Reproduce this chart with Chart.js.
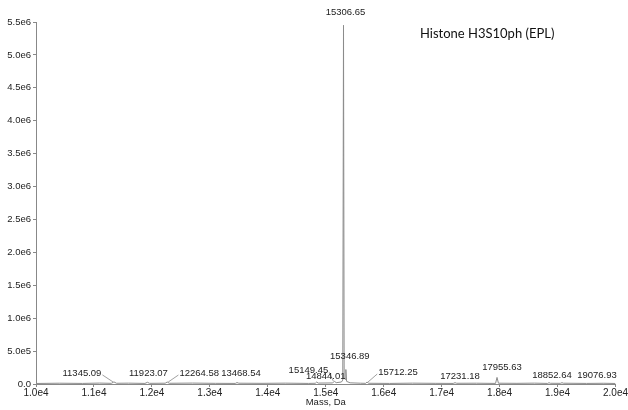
<!DOCTYPE html>
<html>
<head>
<meta charset="utf-8">
<script src="https://cdn.jsdelivr.net/npm/chart.js@4"></script>
<style>
  html, body { margin: 0; padding: 0; background: #fff; }
  #wrap { width: 628px; height: 410px; }
</style>
</head>
<body>
<div id="wrap"><canvas id="myChart" width="628" height="410"></canvas></div>
<script>
// spectrum (mass in Da, intensity in counts)
const specMass = [10000, 10400, 10800, 11100, 11300, 11345.09, 11390, 11600, 11880, 11923.07, 11960,
  12230, 12264.58, 12300, 12700, 13100, 13440, 13468.54, 13500, 13900, 14300, 14700, 14820, 14844.01, 14870,
  15120, 15149.45, 15180, 15270, 15294, 15306.65, 15318, 15334, 15346.89, 15360, 15420, 15600, 15690, 15712.25,
  15740, 16100, 16500, 16900, 17200, 17231.18, 17260, 17600, 17930, 17955.63, 17980, 18300, 18600, 18830,
  18852.64, 18875, 19050, 19076.93, 19100, 19500, 19800, 20000];
const specIntensity = [8000, 12000, 9000, 14000, 10000, 32000, 11000, 13000, 9000, 26000, 10000,
  12000, 30000, 11000, 14000, 10000, 9000, 22000, 12000, 10000, 13000, 9000, 11000, 30000, 14000,
  16000, 42000, 20000, 30000, 60000, 5450000, 90000, 70000, 220000, 40000, 18000, 12000, 10000, 30000,
  11000, 9000, 13000, 10000, 9000, 20000, 11000, 12000, 9000, 100000, 12000, 10000, 13000, 9000,
  20000, 11000, 10000, 20000, 12000, 9000, 11000, 8000];

// labelled peaks
const peakMass = [11345.09, 11923.07, 12264.58, 13468.54, 15149.45, 14844.01, 15306.65, 15346.89,
  15712.25, 17231.18, 17955.63, 18852.64, 19076.93];
const peakIntensity = [32000, 26000, 30000, 22000, 42000, 30000, 5450000, 220000, 30000, 20000, 100000, 20000, 20000];

const xTicks = [10000, 11000, 12000, 13000, 14000, 15000, 16000, 17000, 18000, 19000, 20000];
const yMax = 5500000;
const title = 'Histone H3S10ph (EPL)';
const xTitle = 'Mass, Da';

// label offsets (px) from the peak top, and whether to draw a leader line
const labelStyle = [
  { dx: -32, dy: -4, lead: true },
  { dx: 1, dy: -4 },
  { dx: 32, dy: -4, lead: true },
  { dx: 4, dy: -4 },
  { dx: -26, dy: -6, lead: true },
  { dx: 9, dy: -1 },
  { dx: 2, dy: -8 },
  { dx: 4, dy: -8 },
  { dx: 31, dy: -5, lead: true },
  { dx: 5, dy: -2 },
  { dx: 5, dy: -5 },
  { dx: 3, dy: -3 },
  { dx: 35, dy: -3 }
];

function sci(v) {
  if (v === 0) return '0.0';
  return v.toExponential(1).replace('+', '');
}

const peakLabels = {
  id: 'peakLabels',
  afterDatasetsDraw(chart) {
    const { ctx, scales: { x, y } } = chart;
    ctx.save();
    ctx.font = '9.5px "Liberation Sans", Arial, sans-serif';
    ctx.fillStyle = '#222';
    ctx.textAlign = 'center';
    ctx.textBaseline = 'bottom';
    peakMass.forEach((m, i) => {
      const s = labelStyle[i];
      const px = x.getPixelForValue(m);
      const py = y.getPixelForValue(peakIntensity[i]);
      const tx = px + s.dx, ty = py + s.dy;
      const txt = m.toFixed(2);
      ctx.fillText(txt, tx, ty);
      if (s.lead) {
        const w = ctx.measureText(txt).width;
        const ex = s.dx < 0 ? tx + w / 2 + 1 : tx - w / 2 - 1;
        ctx.strokeStyle = '#888';
        ctx.lineWidth = 0.8;
        ctx.beginPath();
        ctx.moveTo(ex, ty - 3);
        ctx.lineTo(px + (s.dx < 0 ? -1 : 1), py);
        ctx.stroke();
      }
    });
    // title top right
    ctx.font = '13px Lato, "Open Sans", sans-serif';
    ctx.fillStyle = '#111';
    ctx.textAlign = 'left';
    ctx.textBaseline = 'alphabetic';
    ctx.fillText(title, 420, 38);
    // x axis title
    ctx.font = '9.5px "Liberation Sans", Arial, sans-serif';
    ctx.fillStyle = '#222';
    ctx.textAlign = 'center';
    ctx.fillText(xTitle, x.getPixelForValue(15000), 405);
    ctx.restore();
  }
};

const ctx = document.getElementById('myChart').getContext('2d');
new Chart(ctx, {
  type: 'line',
  data: {
    datasets: [{
      data: specMass.map((m, i) => ({ x: m, y: specIntensity[i] })),
      borderColor: '#8c8c8c',
      borderWidth: 1,
      pointRadius: 0,
      tension: 0,
      fill: false
    }]
  },
  plugins: [peakLabels],
  options: {
    responsive: false,
    animation: false,
    devicePixelRatio: 1,
    layout: { padding: { top: 22, right: 12, left: 0, bottom: 0 } },
    plugins: { legend: { display: false }, tooltip: { enabled: false } },
    scales: {
      x: {
        type: 'linear',
        min: 10000,
        max: 20000,
        afterBuildTicks: (axis) => { axis.ticks = xTicks.map(v => ({ value: v })); },
        afterFit: (axis) => { axis.height = 26; },
        border: { color: '#888', width: 1 },
        grid: { drawOnChartArea: false, tickLength: 3, color: '#888' },
        ticks: {
          padding: 0,
          maxRotation: 0,
          color: '#222',
          font: { family: '"Liberation Sans", Arial, sans-serif', size: 10 },
          callback: (v) => sci(v)
        }
      },
      y: {
        min: 0,
        max: yMax,
        afterFit: (axis) => { axis.width = 36; },
        border: { color: '#888', width: 1 },
        grid: { drawOnChartArea: false, tickLength: 3, color: '#888' },
        ticks: {
          stepSize: 500000,
          padding: 2,
          color: '#222',
          font: { family: '"Liberation Sans", Arial, sans-serif', size: 9.5 },
          callback: (v) => sci(v)
        }
      }
    }
  }
});
</script>
</body>
</html>
